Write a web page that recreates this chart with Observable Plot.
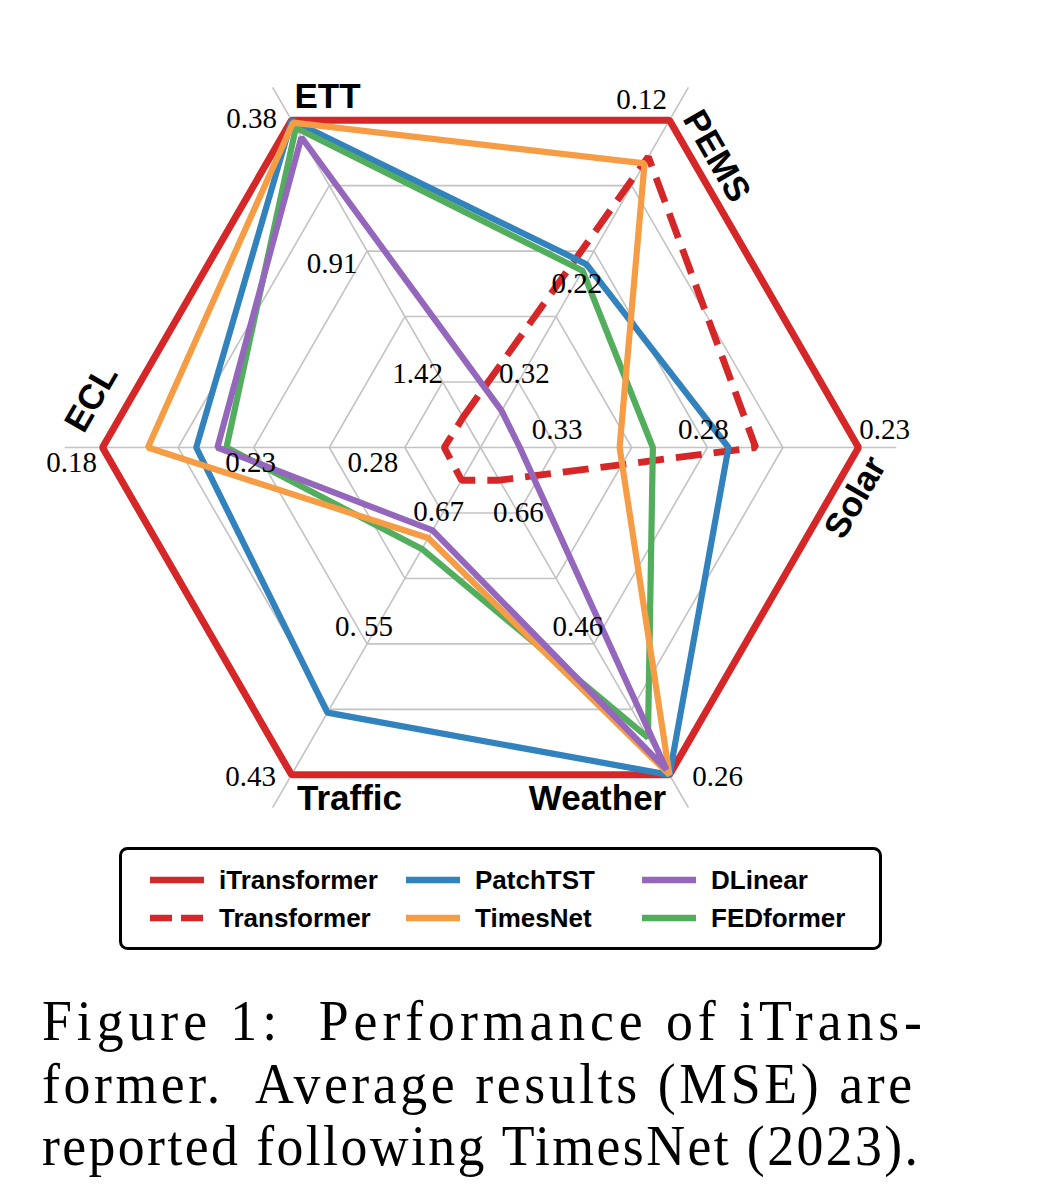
<!DOCTYPE html>
<html>
<head>
<meta charset="utf-8">
<script src="https://cdn.jsdelivr.net/npm/d3@7"></script>
<script src="https://cdn.jsdelivr.net/npm/@observablehq/plot@0.6"></script>
<style>
  html, body { margin: 0; padding: 0; background: #fff; }
  body { width: 1051px; height: 1202px; position: relative; overflow: hidden; }
  #chart { position: absolute; left: 0; top: 0; }
  #legend { position: absolute; left: 0; top: 830px; }
  #caption { position: absolute; left: 0; top: 980px; }
</style>
</head>
<body>
<div id="chart"></div>
<div id="legend"></div>
<div id="caption"></div>
<script>
// ---------------- data ----------------
const axes = ["ETT", "PEMS", "Solar", "Weather", "Traffic", "ECL"];
// tick labels on each axis, for the outer ring, the middle ring and the inner ring
const tickLabels = [
  ["0.38", "0.91", "1.42"],
  ["0.12", "0.22", "0.32"],
  ["0.23", "0.28", "0.33"],
  ["0.26", "0.46", "0.66"],
  ["0.43", "0. 55", "0.67"],
  ["0.18", "0.23", "0.28"]
];
const tickLevels = [5, 3, 1];
const gridLevels = [1, 2, 3, 4, 5];

const seriesNames = ["iTransformer", "Transformer", "PatchTST", "TimesNet", "DLinear", "FEDformer"];
// average MSE per axis: ETT, PEMS, Solar, Weather, Traffic, ECL
const iTransformer = [0.38, 0.12, 0.23, 0.26, 0.43, 0.18];
const Transformer  = [1.56, 0.148, 0.264, 0.71, 0.70, 0.293];
const PatchTST     = [0.381, 0.23, 0.273, 0.26, 0.487, 0.211];
const TimesNet     = [0.39, 0.153, 0.309, 0.26, 0.647, 0.195];
const DLinear      = [0.448, 0.342, 0.342, 0.268, 0.654, 0.218];
const FEDformer    = [0.41, 0.235, 0.298, 0.317, 0.637, 0.221];

const captionLines = [
  "Figure 1:  Performance of iTrans-",
  "former.  Average results (MSE) are",
  "reported following TimesNet (2023)."
];

// ---------------- layout / style ----------------
const W = 1051, H = 832, CX = 480, CY = 447, R = 378;
const axisAngles = [120, 60, 0, -60, -120, 180];
const colors = {
  iTransformer: "#d62728", Transformer: "#d62728", PatchTST: "#3182bd",
  TimesNet: "#f59c45", DLinear: "#9467bd", FEDformer: "#52ad5c"
};
const drawOrder = ["iTransformer", "Transformer", "PatchTST", "FEDformer", "TimesNet", "DLinear"];
// pixel offsets (dx, dy) of each tick label from its ring vertex
const tickOffsets = [
  [[-40, -1], [-35, 13], [-25, -8]],
  [[-28, -20], [-17, 33], [6, -8]],
  [[26, -18], [-4, -18], [1, -18]],
  [[48, 2], [-16, -17], [0, 0]],
  [[-41, 2], [-3, -17], [-4, -1]],
  [[-31, 15], [-3, 15], [-32, 15]]
];
const titleOffsets = [[36, -23], [47, 36], [-3, 50], [-72, 24], [58, 24], [-11, -49]];
const titleRotate = [0, 60, -60, 0, 0, -60];

const seriesValues = {iTransformer, Transformer, PatchTST, TimesNet, DLinear, FEDformer};

const rad = a => a * Math.PI / 180;
const num = s => +String(s).replace(/\s/g, "");
function levelOf(i, v) {
  const outer = num(tickLabels[i][0]), inner = num(tickLabels[i][2]);
  return 1 + 4 * (inner - v) / (inner - outer);
}
function pos(i, lvl) {
  const r = lvl / 5;
  return [r * Math.cos(rad(axisAngles[i])), r * Math.sin(rad(axisAngles[i]))];
}

// grid rings
const gridPts = [];
for (const L of gridLevels) axes.forEach((a, i) => { const [x, y] = pos(i, L); gridPts.push({L, x, y}); });
// spokes
const spokes = axes.map((a, i) => { const [x, y] = pos(i, 5.5); return {a, x, y}; });
// tick labels
const tickPts = [];
axes.forEach((a, i) => tickLabels[i].forEach((t, k) => {
  const [x, y] = pos(i, tickLevels[k]);
  const [dx, dy] = tickOffsets[i][k];
  tickPts.push({t, x: x + dx / R, y: y - dy / R});
}));
// titles
const titlePts = axes.map((a, i) => {
  const [x, y] = pos(i, 5);
  const [dx, dy] = titleOffsets[i];
  return {a, x: x + dx / R, y: y - dy / R, rot: titleRotate[i]};
});

function seriesMark(name) {
  const vals = seriesValues[name];
  const pts = axes.map((a, i) => { const [x, y] = pos(i, levelOf(i, vals[i])); return {name, x, y}; });
  return Plot.line(pts, {
    x: "x", y: "y", curve: "linear-closed",
    stroke: colors[name], strokeWidth: name === "iTransformer" ? 7 : (name === "Transformer" ? 6.8 : 6.2),
    strokeLinejoin: "miter", strokeLinecap: "butt",
    strokeDasharray: name === "Transformer" ? "26,12" : null
  });
}

const plot = Plot.plot({
  width: W, height: H, margin: 0,
  x: {domain: [-CX / R, (W - CX) / R], range: [0, W], axis: null},
  y: {domain: [-(H - CY) / R, CY / R], range: [H, 0], axis: null},
  style: {background: "#fff"},
  marks: [
    Plot.line(gridPts, {x: "x", y: "y", z: "L", curve: "linear-closed", stroke: "#c3c3c3", strokeWidth: 1.6}),
    Plot.link(spokes, {x1: () => 0, y1: () => 0, x2: "x", y2: "y", stroke: "#c3c3c3", strokeWidth: 1.6}),
    ...drawOrder.map(seriesMark),
    Plot.text(tickPts, {x: "x", y: "y", text: "t", fontFamily: "Liberation Serif", fontSize: 29, fill: "#000", textAnchor: "middle", lineAnchor: "middle"}),
    Plot.text(titlePts, {x: "x", y: "y", text: "a", rotate: "rot", fontFamily: "Liberation Sans", fontWeight: "bold", fontSize: 35, fill: "#000", textAnchor: "middle", lineAnchor: "middle"})
  ]
});
document.getElementById("chart").appendChild(plot);

// ---------------- legend ----------------
const legendOrder = ["iTransformer", "Transformer", "PatchTST", "TimesNet", "DLinear", "FEDformer"];
const colX = [150, 406, 642], textX = [219, 475, 711], rowY = [50, 88];
const lsvg = d3.select("#legend").append("svg").attr("width", W).attr("height", 140);
lsvg.append("rect").attr("x", 120.5).attr("y", 18.5).attr("width", 760).attr("height", 100)
  .attr("rx", 7).attr("fill", "none").attr("stroke", "#000").attr("stroke-width", 3);
legendOrder.forEach((name, k) => {
  const c = Math.floor(k / 2), r = k % 2;
  lsvg.append("line").attr("x1", colX[c]).attr("x2", colX[c] + 54).attr("y1", rowY[r]).attr("y2", rowY[r])
    .attr("stroke", colors[name]).attr("stroke-width", 6.5)
    .attr("stroke-dasharray", name === "Transformer" ? "22,9" : null);
  lsvg.append("text").attr("x", textX[c]).attr("y", rowY[r]).attr("dy", "0.36em")
    .attr("font-family", "Liberation Sans").attr("font-weight", "bold").attr("font-size", 26)
    .attr("fill", "#000").text(name);
});

// ---------------- caption ----------------
const csvg = d3.select("#caption").append("svg").attr("width", W).attr("height", 222);
const capWidths = [880, 870, 876];
const capSX = 0.96;
captionLines.forEach((line, k) => {
  csvg.append("text")
    .attr("transform", `translate(42,${60 + k * 62.5}) scale(${capSX},1)`)
    .attr("x", 0).attr("y", 0)
    .attr("font-family", "Liberation Serif").attr("font-size", 56).attr("fill", "#000")
    .attr("textLength", capWidths[k] / capSX).attr("lengthAdjust", "spacing")
    .attr("xml:space", "preserve").style("white-space", "pre")
    .text(line);
});
</script>
</body>
</html>
